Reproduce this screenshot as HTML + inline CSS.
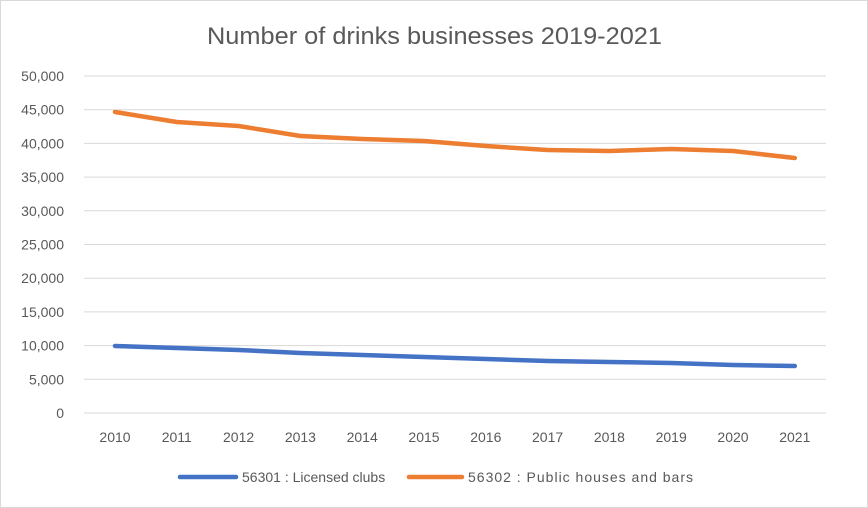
<!DOCTYPE html>
<html><head><meta charset="utf-8"><style>
body{margin:0;background:#fff;}
svg{display:block;font-family:"Liberation Sans",sans-serif;}
</style></head><body>
<svg id="chart" width="868" height="508">
<rect x="0.5" y="0.5" width="867" height="507" fill="#fff" stroke="#d9d9d9"/>
<text x="207" y="44" textLength="455" lengthAdjust="spacingAndGlyphs" font-size="24" fill="#595959">Number of drinks businesses 2019-2021</text>
<g id="grid"></g><g id="series"></g>
<g>
<g>
<line x1="180" y1="477" x2="236" y2="477" stroke="#4472c4" stroke-width="4.5" stroke-linecap="round"/>
<text x="242" y="482" font-size="14" fill="#595959">56301 : Licensed clubs</text></g>
<g>
<line x1="409" y1="477" x2="462" y2="477" stroke="#ed7d31" stroke-width="4.5" stroke-linecap="round"/>
<text x="468" y="482" font-size="14" textLength="225" lengthAdjust="spacing" fill="#595959">56302 : Public houses and bars</text></g>
</g>
</svg>
<script>
const years=["2010","2011","2012","2013","2014","2015","2016","2017","2018","2019","2020","2021"];
const clubs=[9940,9640,9350,8900,8600,8310,8010,7720,7570,7420,7120,6970];
const pubs=[44660,43180,42580,41100,40650,40360,39610,39020,38870,39170,38870,37830];
const yTicks=[0,5000,10000,15000,20000,25000,30000,35000,40000,45000,50000];
const NS="http://www.w3.org/2000/svg";
const y=v=>413-v/50000*337;
const x=i=>115+i*61.8;
const grid=document.getElementById('grid'),ser=document.getElementById('series');
function mk(t,a,p){const e=document.createElementNS(NS,t);for(const k in a)e.setAttribute(k,a[k]);p.appendChild(e);return e;}
yTicks.forEach(v=>{
 const l=mk('line',{x1:84,x2:826,y1:y(v),y2:y(v),stroke:'#d9d9d9','stroke-width':1},grid);
 
 
 const t=mk('text',{x:64,y:y(v)+5,'text-anchor':'end','font-size':14,fill:'#595959'},grid);
 t.textContent=v.toLocaleString('en-US');
 
 
});
years.forEach((yr,i)=>{
 const t=mk('text',{x:x(i),y:442,'text-anchor':'middle','font-size':14,fill:'#595959'},grid);
 t.textContent=yr;
 
 
});
function line(d,c,n){
 const p=mk('polyline',{points:d.map((v,i)=>x(i)+','+y(v)).join(' '),fill:'none',stroke:c,'stroke-width':4.5,'stroke-linejoin':'round','stroke-linecap':'round'},ser);
 
 
}
line(clubs,'#4472c4','licensed-clubs-line');
line(pubs,'#ed7d31','public-houses-line');
</script>
</body></html>
